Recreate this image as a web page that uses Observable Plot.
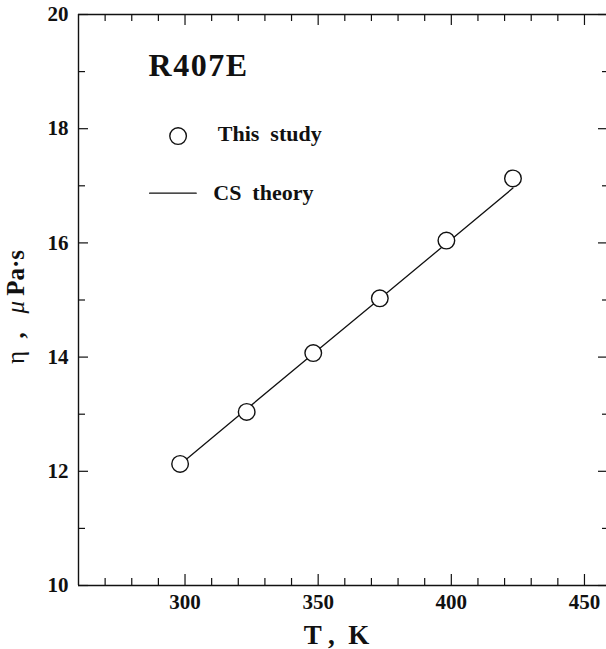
<!DOCTYPE html>
<html>
<head>
<meta charset="utf-8">
<script src="https://cdn.jsdelivr.net/npm/d3@7"></script>
<script src="https://cdn.jsdelivr.net/npm/@observablehq/plot@0.6"></script>
<style>
  html, body { margin: 0; padding: 0; background: #fff; overflow: hidden; }
  #chart { width: 606px; overflow: hidden; }
  #chart svg { display: block; overflow: hidden; }
</style>
</head>
<body>
<div id="chart"></div>
<script>
// ---- data ----
const temperatures = [298.15, 323.15, 348.15, 373.15, 398.15, 423.15];
const viscosityMeasured = [12.13, 13.04, 14.07, 15.03, 16.04, 17.13];
const viscosityTheory = [12.12, 13.09, 14.06, 15.02, 15.99, 16.96];
const xMajorTicks = [300, 350, 400, 450];
const xMinorTicks = [270, 280, 290, 310, 320, 330, 340, 360, 370, 380, 390, 410, 420, 430, 440];
const yMajorTicks = [10, 12, 14, 16, 18, 20];
const yMinorTicks = [11, 13, 15, 17, 19];
const xDomain = [260, 460];
const yDomain = [10, 20];
const fluidName = ["R407E"];
const legendLabels = ["This study", "CS theory"];
const xTitle = "T ,\u00a0\u00a0K";

const measured = temperatures.map((t, i) => ({T: t, eta: viscosityMeasured[i]}));
const theory = temperatures.map((t, i) => ({T: t, eta: viscosityTheory[i]}));

// annotation anchors (data coordinates)
const nameAt = {T: 286.3, eta: 19.11};
const legendMarkerAt = {T: 297.4, eta: 17.87};
const legendText1At = {T: 312.3, eta: 17.90};
const legendLine = [{T: 286.7, eta: 16.87}, {T: 304.2, eta: 16.87}];
const legendText2At = {T: 310.6, eta: 16.87};

const W = 606, H = 649;
const mL = 78, mR = 0, mT = 14, mB = 64;
const frameW = W - mL - mR, frameH = H - mT - mB;
const FONT = "'Liberation Serif', 'Times New Roman', serif";
const INK = "#111";

const chart = Plot.plot({
  width: W,
  height: H,
  marginLeft: mL,
  marginRight: mR,
  marginTop: mT,
  marginBottom: mB,
  style: {fontFamily: FONT, fontWeight: "bold", fontSize: "20px", color: INK, background: "#fff", overflow: "hidden"},
  // the plotting box extends a little past the picture's right edge, as in the original
  x: {domain: xDomain, range: [mL, 610.6]},
  y: {domain: yDomain},
  marks: [
    // box edges
    Plot.ruleX(xDomain, {stroke: INK, strokeWidth: 1.4}),
    Plot.ruleY(yDomain, {stroke: INK, strokeWidth: 1.4}),
    // bottom ticks (inward)
    Plot.ruleX(xMajorTicks, {stroke: INK, strokeWidth: 1.2, insetTop: frameH - 11}),
    Plot.ruleX(xMinorTicks, {stroke: INK, strokeWidth: 1.2, insetTop: frameH - 7}),
    // top ticks (inward)
    Plot.ruleX(xMajorTicks, {stroke: INK, strokeWidth: 1.2, insetBottom: frameH - 11}),
    Plot.ruleX(xMinorTicks, {stroke: INK, strokeWidth: 1.2, insetBottom: frameH - 7}),
    // left ticks (inward)
    Plot.ruleY(yMajorTicks, {stroke: INK, strokeWidth: 1.2, insetRight: frameW - 10}),
    Plot.ruleY(yMinorTicks, {stroke: INK, strokeWidth: 1.2, insetRight: frameW - 7}),
    // right ticks (inward, box edge beyond picture)
    Plot.ruleY(yMajorTicks, {stroke: INK, strokeWidth: 1.2, insetLeft: frameW - 8}),
    Plot.ruleY(yMinorTicks, {stroke: INK, strokeWidth: 1.2, insetLeft: frameW - 4}),
    Plot.axisX({ticks: xMajorTicks, tickSize: 0, tickPadding: 9, label: null, fontSize: 21, fontFamily: FONT, fontWeight: "bold", fill: INK}),
    Plot.axisY({ticks: yMajorTicks, tickSize: 0, tickPadding: 10, label: null, fontSize: 21, fontFamily: FONT, fontWeight: "bold", fill: INK}),
    Plot.text([xTitle], {frameAnchor: "bottom", lineAnchor: "middle", dy: 49.4, dx: -6, fontSize: 27, fontFamily: FONT, fontWeight: "bold", fill: INK}),
    // data
    Plot.line(theory, {x: "T", y: "eta", stroke: INK, strokeWidth: 1.3}),
    Plot.dot(measured, {x: "T", y: "eta", r: 8.3, stroke: INK, strokeWidth: 1.4, fill: "#fff"}),
    // annotations / legend
    Plot.text(fluidName, {x: () => nameAt.T, y: () => nameAt.eta, text: d => d, textAnchor: "start", fontSize: 32, fontFamily: FONT, fontWeight: "bold", fill: INK}),
    Plot.dot([legendMarkerAt], {x: "T", y: "eta", r: 8.3, stroke: INK, strokeWidth: 1.4, fill: "#fff"}),
    Plot.text([legendLabels[0]], {x: () => legendText1At.T, y: () => legendText1At.eta, text: d => d.replace(" ", "\u00a0\u00a0"), textAnchor: "start", fontSize: 22, fontFamily: FONT, fontWeight: "bold", fill: INK}),
    Plot.line(legendLine, {x: "T", y: "eta", stroke: INK, strokeWidth: 1.3}),
    Plot.text([legendLabels[1]], {x: () => legendText2At.T, y: () => legendText2At.eta, text: d => d.replace(" ", "\u00a0\u00a0"), textAnchor: "start", fontSize: 22, fontFamily: FONT, fontWeight: "bold", fill: INK})
  ]
});

const svg = d3.select(chart);
svg.selectAll("text").filter(function () { return this.textContent === "R407E"; })
  .attr("letter-spacing", "1.5px");

// y-axis title with mixed styling
const yTitle = svg.append("text")
  .attr("transform", "translate(24, 307) rotate(-90)")
  .attr("text-anchor", "middle")
  .attr("font-family", FONT)
  .attr("font-size", 25)
  .attr("fill", INK);
yTitle.append("tspan").attr("font-weight", "normal").text("η");
yTitle.append("tspan").attr("font-weight", "bold").text("\u00a0\u00a0,\u00a0\u00a0\u00a0");
yTitle.append("tspan").attr("font-weight", "normal").attr("font-style", "italic").text("μ");
yTitle.append("tspan").attr("font-weight", "bold").text("\u2009Pa·s");

document.getElementById("chart").appendChild(chart);
</script>
</body>
</html>
